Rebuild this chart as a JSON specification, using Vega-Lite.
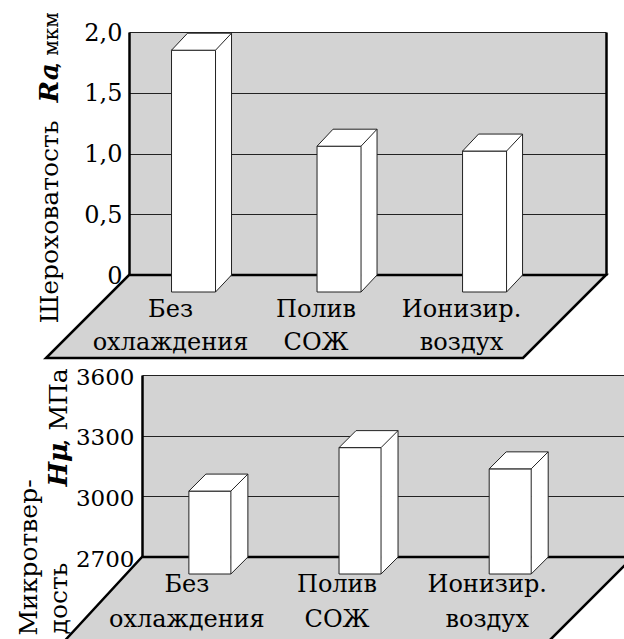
{
  "$schema": "https://vega.github.io/schema/vega-lite/v6.json",
  "background": "white",
  "padding": {"left": 16, "top": 11, "right": 0, "bottom": 0},
  "bounds": "flush",
  "spacing": 100,
  "config": {"view": {"stroke": null}, "font": "DejaVu Serif"},
  "datasets": {
    "ra": [
      {"cat": "Без охлаждения", "value": 1.99},
      {"cat": "Полив СОЖ", "value": 1.2},
      {"cat": "Ионизир. воздух", "value": 1.16}
    ],
    "hm": [
      {"cat": "Без охлаждения", "value": 3110},
      {"cat": "Полив СОЖ", "value": 3325},
      {"cat": "Ионизир. воздух", "value": 3220}
    ]
  },
  "vconcat": [
    {
      "width": 477,
      "height": 243,
      "view": {"fill": "#d3d3d3", "stroke": null},
      "data": {"name": "ra"},
      "resolve": {"axis": {"y": "independent"}},
      "layer": [
        {
          "transform": [{"aggregate": [{"op": "count", "as": "n"}]}],
          "mark": {"type": "point", "shape": "M-238.5,0L238.5,0L155.5,83L-321.5,83Z", "size": 4, "filled": true, "fill": "#d3d3d3", "stroke": "black", "strokeWidth": 2.5, "strokeJoin": "miter", "opacity": 1},
          "encoding": {
            "y": {"datum": 0, "type": "quantitative", "scale": {"domain": [0, 2], "nice": false, "zero": false}, "axis": null}
          }
        },
        {
          "mark": {"type": "bar", "width": 16, "xOffset": 30, "fill": "white", "strokeWidth": 0},
          "encoding": {
            "x": {"field": "cat", "type": "nominal", "sort": null, "scale": {"type": "point", "padding": 0.639, "align": 0.347}, "axis": null},
            "y": {"field": "value", "type": "quantitative", "scale": {"domain": [0, 2], "nice": false, "zero": false},
              "axis": {"orient": "left", "labels": false, "ticks": false, "domain": false, "grid": false,
                "title": "Ra", "titleFont": "DejaVu Serif", "titleFontSize": 26, "titleFontWeight": "bold", "titleFontStyle": "italic", "titleColor": "black",
                "titleX": -72, "titleY": 70, "titleAngle": 270, "titleAlign": "left", "titleBaseline": "alphabetic"}},
            "y2": {"datum": 0}
          }
        },
        {
          "mark": {"type": "point", "shape": "M22,0L22,17L38,0Z", "size": 4, "filled": true, "fill": "white", "strokeWidth": 0, "opacity": 1},
          "encoding": {
            "x": {"field": "cat", "type": "nominal", "sort": null, "scale": {"type": "point", "padding": 0.639, "align": 0.347}, "axis": null},
            "y": {"datum": 0, "type": "quantitative", "axis": null}
          }
        },
        {
          "mark": {"type": "bar", "width": 44, "fill": "white", "stroke": "#222", "strokeWidth": 1, "yOffset": 17, "y2Offset": 17},
          "encoding": {
            "x": {"field": "cat", "type": "nominal", "sort": null, "scale": {"type": "point", "padding": 0.639, "align": 0.347}, "axis": null},
            "y": {"field": "value", "type": "quantitative", "scale": {"domain": [0, 2], "nice": false, "zero": false},
              "axis": {"orient": "left", "values": [0, 0.5, 1, 1.5, 2],
                "labelExpr": "datum.value == 0 ? '0' : replace(format(datum.value, '.1f'), '.', ',')",
                "labelFont": "DejaVu Serif", "labelFontSize": 24, "labelColor": "black", "labelPadding": 7,
                "labelBaseline": "middle", "labelOffset": 1, "labelFlush": false, "labelOverlap": false,
                "ticks": false, "tickSize": 0,
                "domain": true, "domainColor": "black", "domainWidth": 2.5,
                "grid": true, "gridColor": "#222", "gridWidth": 1,
                "title": "Шероховатость", "titleFont": "DejaVu Serif", "titleFontSize": 25, "titleFontWeight": "normal", "titleColor": "black",
                "titleX": -72, "titleY": 88, "titleAngle": 270, "titleAlign": "right", "titleBaseline": "alphabetic"}},
            "y2": {"datum": 0}
          }
        },
        {
          "mark": {"type": "point", "shape": "M-22,17L-6,0L38,0L22,17Z", "size": 4, "filled": true, "fill": "white", "stroke": "#222", "strokeWidth": 1, "opacity": 1},
          "encoding": {
            "x": {"field": "cat", "type": "nominal", "sort": null, "scale": {"type": "point", "padding": 0.639, "align": 0.347}, "axis": null},
            "y": {"field": "value", "type": "quantitative",
              "axis": {"orient": "left", "labels": false, "ticks": false, "domain": false, "grid": false,
                "title": ", мкм", "titleFont": "DejaVu Serif", "titleFontSize": 20, "titleFontWeight": "normal", "titleColor": "black",
                "titleX": -72, "titleY": 36, "titleAngle": 270, "titleAlign": "left", "titleBaseline": "alphabetic"}}
          }
        },
        {
          "mark": {"type": "rule", "xOffset": 38, "stroke": "#222", "strokeWidth": 1},
          "encoding": {
            "x": {"field": "cat", "type": "nominal", "sort": null, "scale": {"type": "point", "padding": 0.639, "align": 0.347}, "axis": null},
            "y": {"field": "value", "type": "quantitative",
              "axis": {"orient": "right", "labels": false, "ticks": false, "grid": false, "domain": true, "domainColor": "black", "domainWidth": 2.5, "title": null}},
            "y2": {"datum": 0}
          }
        },
        {
          "mark": {"type": "point", "shape": "M22,17L38,0", "size": 4, "filled": false, "stroke": "#222", "strokeWidth": 1, "opacity": 1},
          "encoding": {
            "x": {"field": "cat", "type": "nominal", "sort": null, "scale": {"type": "point", "padding": 0.639, "align": 0.347}, "axis": null},
            "y": {"datum": 0, "type": "quantitative", "axis": null}
          }
        },
        {
          "mark": {"type": "text", "font": "DejaVu Serif", "fontSize": 24, "color": "black", "lineBreak": " ", "lineHeight": 33, "align": "center", "baseline": "alphabetic", "dx": -23, "dy": 42},
          "encoding": {
            "x": {"field": "cat", "type": "nominal", "sort": null, "scale": {"type": "point", "padding": 0.639, "align": 0.347}, "axis": null},
            "y": {"datum": 0, "type": "quantitative", "axis": null},
            "text": {"field": "cat"}
          }
        }
      ]
    },
    {
      "bounds": "flush",
      "spacing": 0,
      "hconcat": [
        {
          "width": 13,
          "height": 10,
          "view": {"stroke": null, "fill": null},
          "data": {"values": []},
          "mark": "point"
        },
        {
          "width": 491,
          "height": 182,
          "view": {"fill": "#d3d3d3", "stroke": null},
          "data": {"name": "hm"},
          "resolve": {"axis": {"y": "independent"}},
          "layer": [
            {
              "transform": [{"aggregate": [{"op": "count", "as": "n"}]}],
              "mark": {"type": "point", "shape": "M-245.5,0L245.5,0L155.5,90L-328.5,90Z", "size": 4, "filled": true, "fill": "#d3d3d3", "stroke": "black", "strokeWidth": 2.5, "strokeJoin": "miter", "opacity": 1},
              "encoding": {
                "y": {"datum": 2700, "type": "quantitative", "scale": {"domain": [2700, 3600], "nice": false, "zero": false}, "axis": null}
              }
            },
            {
              "mark": {"type": "bar", "width": 17, "xOffset": 29.5, "fill": "white", "strokeWidth": 0},
              "encoding": {
                "x": {"field": "cat", "type": "nominal", "sort": null, "scale": {"type": "point", "padding": 0.635, "align": 0.356}, "axis": null},
                "y": {"field": "value", "type": "quantitative", "scale": {"domain": [2700, 3600], "nice": false, "zero": false},
                  "axis": {"orient": "left", "labels": false, "ticks": false, "domain": false, "grid": false,
                    "title": "дость", "titleFont": "DejaVu Serif", "titleFontSize": 25, "titleFontWeight": "normal", "titleColor": "black",
                    "titleX": -76, "titleY": 259, "titleAngle": 270, "titleAlign": "left", "titleBaseline": "alphabetic"}},
                "y2": {"datum": 2700}
              }
            },
            {
              "mark": {"type": "point", "shape": "M21,0L21,17L38,0Z", "size": 4, "filled": true, "fill": "white", "strokeWidth": 0, "opacity": 1},
              "encoding": {
                "x": {"field": "cat", "type": "nominal", "sort": null, "scale": {"type": "point", "padding": 0.635, "align": 0.356}, "axis": null},
                "y": {"datum": 2700, "type": "quantitative",
                  "axis": {"orient": "left", "labels": false, "ticks": false, "domain": false, "grid": false,
                    "title": ", МПа", "titleFont": "DejaVu Serif", "titleFontSize": 25, "titleFontWeight": "normal", "titleColor": "black",
                    "titleX": -76, "titleY": 71, "titleAngle": 270, "titleAlign": "left", "titleBaseline": "alphabetic"}}
              }
            },
            {
              "mark": {"type": "bar", "width": 42, "fill": "white", "stroke": "#222", "strokeWidth": 1, "yOffset": 17, "y2Offset": 17},
              "encoding": {
                "x": {"field": "cat", "type": "nominal", "sort": null, "scale": {"type": "point", "padding": 0.635, "align": 0.356}, "axis": null},
                "y": {"field": "value", "type": "quantitative", "scale": {"domain": [2700, 3600], "nice": false, "zero": false},
                  "axis": {"orient": "left", "values": [2700, 3000, 3300, 3600],
                    "labelExpr": "format(datum.value, 'd')",
                    "labelFont": "DejaVu Serif", "labelFontSize": 23, "labelColor": "black", "labelPadding": 8,
                    "labelBaseline": "middle", "labelOffset": 2, "labelFlush": false, "labelOverlap": false,
                    "ticks": false, "tickSize": 0,
                    "domain": true, "domainColor": "black", "domainWidth": 2.5,
                    "grid": true, "gridColor": "#222", "gridWidth": 1,
                    "title": "Микротвер-", "titleFont": "DejaVu Serif", "titleFontSize": 25, "titleFontWeight": "normal", "titleColor": "black",
                    "titleX": -105.5, "titleY": 260, "titleAngle": 270, "titleAlign": "left", "titleBaseline": "alphabetic"}},
                "y2": {"datum": 2700}
              }
            },
            {
              "mark": {"type": "point", "shape": "M-21,17L-4,0L38,0L21,17Z", "size": 4, "filled": true, "fill": "white", "stroke": "#222", "strokeWidth": 1, "opacity": 1},
              "encoding": {
                "x": {"field": "cat", "type": "nominal", "sort": null, "scale": {"type": "point", "padding": 0.635, "align": 0.356}, "axis": null},
                "y": {"field": "value", "type": "quantitative",
                  "axis": {"orient": "left", "labels": false, "ticks": false, "domain": false, "grid": false,
                    "title": "Hμ", "titleFont": "DejaVu Serif", "titleFontSize": 26, "titleFontWeight": "bold", "titleFontStyle": "italic", "titleColor": "black",
                    "titleX": -76, "titleY": 111, "titleAngle": 270, "titleAlign": "left", "titleBaseline": "alphabetic"}}
              }
            },
            {
              "mark": {"type": "rule", "xOffset": 38, "stroke": "#222", "strokeWidth": 1},
              "encoding": {
                "x": {"field": "cat", "type": "nominal", "sort": null, "scale": {"type": "point", "padding": 0.635, "align": 0.356}, "axis": null},
                "y": {"field": "value", "type": "quantitative",
                  "axis": {"orient": "right", "labels": false, "ticks": false, "grid": false, "domain": true, "domainColor": "black", "domainWidth": 2.5, "title": null}},
                "y2": {"datum": 2700}
              }
            },
            {
              "mark": {"type": "point", "shape": "M21,17L38,0", "size": 4, "filled": false, "stroke": "#222", "strokeWidth": 1, "opacity": 1},
              "encoding": {
                "x": {"field": "cat", "type": "nominal", "sort": null, "scale": {"type": "point", "padding": 0.635, "align": 0.356}, "axis": null},
                "y": {"datum": 2700, "type": "quantitative", "axis": null}
              }
            },
            {
              "mark": {"type": "text", "font": "DejaVu Serif", "fontSize": 24, "color": "black", "lineBreak": " ", "lineHeight": 35, "align": "center", "baseline": "alphabetic", "dx": -23, "dy": 35},
              "encoding": {
                "x": {"field": "cat", "type": "nominal", "sort": null, "scale": {"type": "point", "padding": 0.635, "align": 0.356}, "axis": null},
                "y": {"datum": 2700, "type": "quantitative", "axis": null},
                "text": {"field": "cat"}
              }
            }
          ]
        }
      ]
    }
  ]
}
